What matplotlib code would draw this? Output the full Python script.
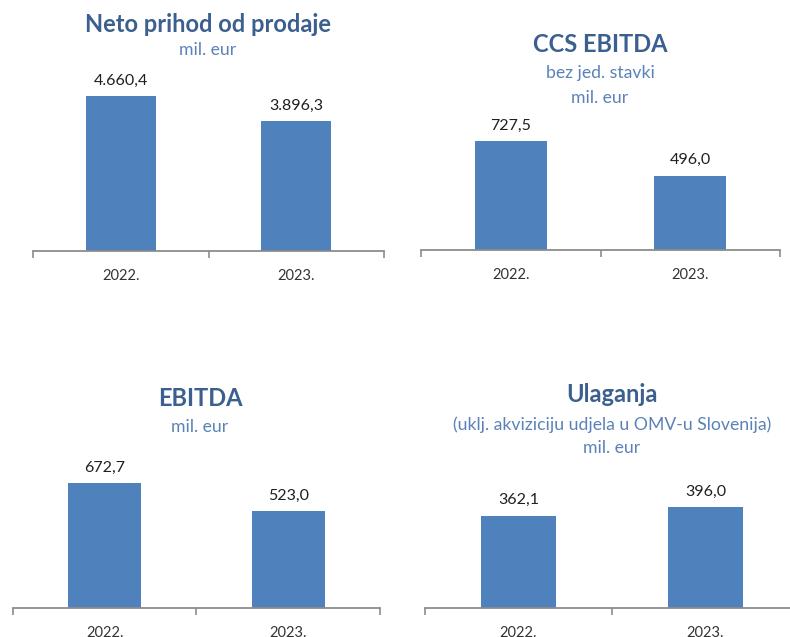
import matplotlib
matplotlib.use("Agg")
import matplotlib.pyplot as plt

# ---- data ----
years = ["2022.", "2023."]
neto_prihod = [4660.4, 3896.3]
ccs_ebitda = [727.5, 496.0]
ebitda = [672.7, 523.0]
ulaganja = [362.1, 396.0]

titles = ["Neto prihod od prodaje", "CCS EBITDA", "EBITDA", "Ulaganja"]
subtitles = [["mil. eur"],
             ["bez jed. stavki", "mil. eur"],
             ["mil. eur"],
             ["(uklj. akviziciju udjela u OMV-u Slovenija)", "mil. eur"]]
series = [neto_prihod, ccs_ebitda, ebitda, ulaganja]

def fmt(v):
    s = f"{v:,.1f}"
    return s.replace(",", "X").replace(".", ",").replace("X", ".")

# ---- layout (pixels) ----
W, H = 790, 637
plt.rcParams['font.family'] = ['Lato', 'DejaVu Sans']
fig = plt.figure(figsize=(W / 100, H / 100), dpi=100)

BAR = "#4f81bd"
TITLE_C = "#3b5f8e"
SUB_C = "#5a82b8"
AX_C = "#8c8c8c"

# (axis y, x left, x right, axes height px, ylim top, title y, subtitle ys, text center x)
panels = [
    (251, 33, 384, 175, 5260, 25, [50], 208),
    (250, 421, 780, 135, 900, 45, [73, 98], 600),
    (608, 13, 380, 150, 807, 398, [427], 200),
    (608, 425, 799, 130, 510, 395, [425, 448], 612),
]

for (ay, x0, x1, hp, ytop, ty, sys_, cx), vals, t, subs in zip(panels, series, titles, subtitles):
    ax = fig.add_axes([x0 / W, 1 - ay / H, (x1 - x0) / W, hp / H])
    xs = list(range(len(vals)))
    ax.bar(xs, vals, width=0.4, color=BAR, zorder=2)
    ax.set_xlim(-0.5, len(vals) - 0.5)
    ax.set_ylim(0, ytop)
    for x, v in zip(xs, vals):
        ax.annotate(fmt(v), (x, v), xytext=(0, 6), textcoords="offset points",
                    ha="center", va="bottom", fontsize=11.5, color="#1f1f1f")
    for s in ["top", "right", "left"]:
        ax.spines[s].set_visible(False)
    ax.spines["bottom"].set_color(AX_C)
    ax.spines["bottom"].set_linewidth(1.3)
    ax.set_yticks([])
    ax.set_xticks(xs)
    ax.set_xticklabels(years, fontsize=10.5, color="#333333")
    ax.tick_params(axis="x", which="major", length=0, pad=13)
    ax.set_xticks([i - 0.5 for i in range(len(vals) + 1)], minor=True)
    ax.tick_params(axis="x", which="minor", length=5, width=1.2, color=AX_C, direction="out")
    ax.patch.set_alpha(0)

    fig.text(cx / W, 1 - ty / H, t, ha="center", va="center",
             fontsize=17, fontweight="bold", color=TITLE_C)
    for sy, st in zip(sys_, subs):
        fig.text(cx / W, 1 - sy / H, st, ha="center", va="center",
                 fontsize=12.7, color=SUB_C)

fig.savefig("out.png", dpi=100, facecolor="white")
